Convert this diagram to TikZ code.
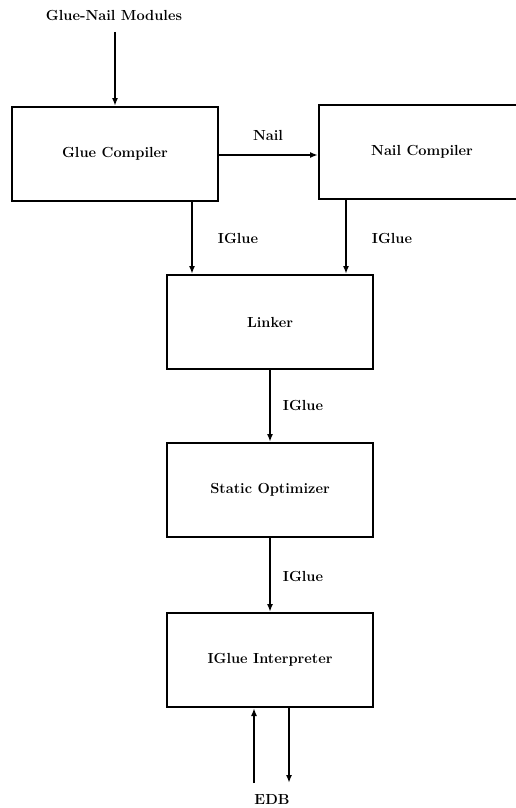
\documentclass[tikz,border=0pt]{standalone}
\usetikzlibrary{arrows.meta}
\begin{document}
\begin{tikzpicture}[x=1pt,y=-1pt,
  every node/.style={font=\fontsize{14.6}{17}\selectfont\bfseries},
  stage/.style={draw,line width=2pt,minimum width=206pt,minimum height=94pt,inner sep=0pt},
  flow/.style={line width=2pt,-{Latex[length=8pt,width=6pt]}},
  tag/.style={inner sep=0pt}]
\useasboundingbox (0,0) rectangle (516,808);
\clip (0,0) rectangle (516,808);

% compiler stages
\node[tag] (mods) at (114,15) {Glue-Nail Modules};
\node[stage] (glue) at (115,154) {Glue Compiler};
\node[stage] (nail) at (422,152) {Nail Compiler};
\node[stage] (link) at (270,322) {Linker};
\node[stage] (opt) at (270,490) {Static Optimizer};
\node[stage] (interp) at (270,660) {IGlue Interpreter};
\node[tag] (edb) at (272,799) {EDB};

% edge labels
\node[tag] (lnail) at (268,135) {Nail};
\node[tag] (lig1) at (238,238) {IGlue};
\node[tag] (lig2) at (392,238) {IGlue};
\node[tag] (lig3) at (303,405) {IGlue};
\node[tag] (lig4) at (303,576) {IGlue};

% column positions of the vertical connectors
\coordinate (xa) at (115,32);
\coordinate (xl) at (192,0);
\coordinate (xr) at (346,0);
\coordinate (xup) at (254,783);
\coordinate (xdn) at (289,783);

\draw[flow] (xa) -- (glue.north -| xa);
\draw[flow] (glue.east |- 0,155) -- (nail.west |- 0,155);
\draw[flow] (glue.south -| xl) -- (link.north -| xl);
\draw[flow] (nail.south -| xr) -- (link.north -| xr);
\draw[flow] (link.south) -- (opt.north);
\draw[flow] (opt.south) -- (interp.north);
\draw[flow] (xup) -- (interp.south -| xup);
\draw[flow] (interp.south -| xdn) -- (xdn);
\end{tikzpicture}
\end{document}
